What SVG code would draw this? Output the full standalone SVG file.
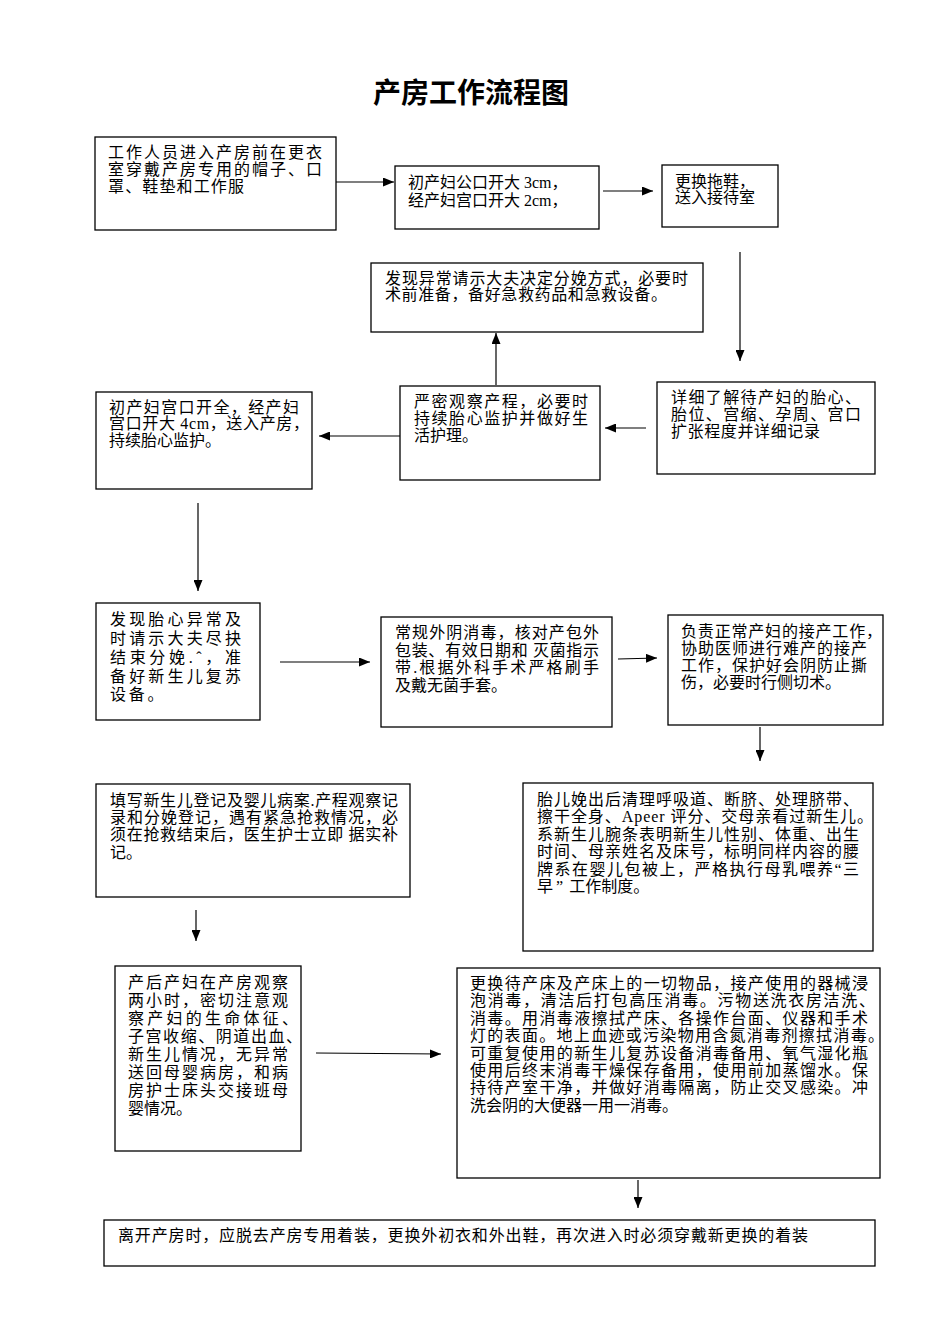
<svg xmlns="http://www.w3.org/2000/svg" width="950" height="1344" viewBox="0 0 950 1344">
<style>
.bg{fill:#fff}
.box{fill:#fff;stroke:#000;stroke-width:1.3}
.t{font-family:"Liberation Serif","Noto Sans CJK SC",serif;font-size:16px;fill:#000}
.title{font-family:"Liberation Serif","Noto Sans CJK SC",serif;font-size:28px;font-weight:bold;fill:#000}
.c{stroke:#000;stroke-width:1.2;fill:none;marker-end:url(#ah)}
</style>
<defs>
<marker id="ah" markerUnits="userSpaceOnUse" markerWidth="11" markerHeight="9" refX="11" refY="4.5" orient="auto">
<path d="M0,0 L11,4.5 L0,9 z" fill="#000"/>
</marker>
</defs>
<rect class="bg" x="0" y="0" width="950" height="1344"/>
<text class="title" x="471" y="103" text-anchor="middle">产房工作流程图</text>

<g id="connectors">
<line class="c" x1="336" y1="182" x2="394" y2="182"/>
<line class="c" x1="603" y1="191" x2="653" y2="191"/>
<line class="c" x1="740" y1="252" x2="740" y2="361"/>
<line class="c" x1="646" y1="428" x2="605" y2="428"/>
<line class="c" x1="496" y1="385" x2="496" y2="333"/>
<line class="c" x1="400" y1="436" x2="319" y2="436"/>
<line class="c" x1="198" y1="503" x2="198" y2="591"/>
<line class="c" x1="280" y1="662" x2="370" y2="662"/>
<line class="c" x1="618" y1="659" x2="657" y2="658"/>
<line class="c" x1="760" y1="727" x2="760" y2="761"/>
<line class="c" x1="196" y1="910" x2="196" y2="941"/>
<line class="c" x1="316" y1="1053" x2="441" y2="1054"/>
<line class="c" x1="638" y1="1180" x2="638" y2="1208"/>
</g>

<g id="nodeA">
<rect class="box" x="95" y="137" width="241" height="93"/>
<text class="t" x="108" y="158" textLength="214">工作人员进入产房前在更衣</text>
<text class="t" x="108" y="175" textLength="214">室穿戴产房专用的帽子、口</text>
<text class="t" x="108" y="192" textLength="136">罩、鞋垫和工作服</text>
</g>

<g id="nodeB">
<rect class="box" x="395" y="166" width="204" height="63"/>
<text class="t" x="408" y="188">初产妇公口开大 3cm，</text>
<text class="t" x="408" y="206">经产妇宫口开大 2cm，</text>
</g>

<g id="nodeC">
<rect class="box" x="662" y="165" width="116" height="62"/>
<text class="t" x="675" y="187">更换拖鞋，</text>
<text class="t" x="675" y="203">送入接待室</text>
</g>

<g id="nodeD">
<rect class="box" x="371" y="263" width="332" height="69"/>
<text class="t" x="385" y="284" textLength="303">发现异常请示大夫决定分娩方式，必要时</text>
<text class="t" x="385" y="300" textLength="282">术前准备，备好急救药品和急救设备。</text>
</g>

<g id="nodeE">
<rect class="box" x="657" y="382" width="218" height="92"/>
<text class="t" x="671" y="403" textLength="190">详细了解待产妇的胎心、</text>
<text class="t" x="671" y="420" textLength="190">胎位、宫缩、孕周、宫口</text>
<text class="t" x="671" y="437" textLength="149">扩张程度并详细记录</text>
</g>

<g id="nodeF">
<rect class="box" x="400" y="386" width="200" height="94"/>
<text class="t" x="414" y="407" textLength="174">严密观察产程，必要时</text>
<text class="t" x="414" y="424" textLength="174">持续胎心监护并做好生</text>
<text class="t" x="414" y="441">活护理。</text>
</g>

<g id="nodeG">
<rect class="box" x="96" y="392" width="216" height="97"/>
<text class="t" x="109" y="413" textLength="190">初产妇宫口开全，经产妇</text>
<text class="t" x="109" y="429" textLength="200">宫口开大 4cm，送入产房，</text>
<text class="t" x="109" y="446">持续胎心监护。</text>
</g>

<g id="nodeH">
<rect class="box" x="96" y="603" width="164" height="117"/>
<text class="t" x="110" y="625" textLength="131">发现胎心异常及</text>
<text class="t" x="110" y="644" textLength="131">时请示大夫尽抉</text>
<text class="t" x="110" y="663" textLength="131">结束分娩.ˆ，准</text>
<text class="t" x="110" y="682" textLength="131">备好新生儿复苏</text>
<text class="t" x="110" y="700" letter-spacing="2.7">设备。</text>
</g>

<g id="nodeI">
<rect class="box" x="381" y="617" width="231" height="110"/>
<text class="t" x="395" y="638" textLength="204">常规外阴消毒，核对产包外</text>
<text class="t" x="395" y="656" textLength="204">包装、有效日期和 灭菌指示</text>
<text class="t" x="395" y="673" textLength="204">带.根据外科手术严格刷手</text>
<text class="t" x="395" y="691">及戴无菌手套。</text>
</g>

<g id="nodeJ">
<rect class="box" x="668" y="615" width="215" height="110"/>
<text class="t" x="681" y="637" textLength="201">负责正常产妇的接产工作，</text>
<text class="t" x="681" y="654" textLength="186">协助医师进行难产的接产</text>
<text class="t" x="681" y="671" textLength="186">工作，保护好会阴防止撕</text>
<text class="t" x="681" y="688">伤，必要时行侧切术。</text>
</g>

<g id="nodeK">
<rect class="box" x="523" y="783" width="350" height="168"/>
<text class="t" x="537" y="805" textLength="322">胎儿娩出后清理呼吸道、断脐、处理脐带、</text>
<text class="t" x="537" y="822.4" textLength="336">擦干全身、Apeer 评分、交母亲看过新生儿。</text>
<text class="t" x="537" y="839.8" textLength="322">系新生儿腕条表明新生儿性别、体重、出生</text>
<text class="t" x="537" y="857.2" textLength="322">时间、母亲姓名及床号，标明同样内容的腰</text>
<text class="t" x="537" y="874.6" textLength="322">牌系在婴儿包被上，严格执行母乳喂养“三</text>
<text class="t" x="537" y="892">早<tspan dx="3">”</tspan><tspan dx="6">工作制度。</tspan></text>
</g>

<g id="nodeL">
<rect class="box" x="96" y="784" width="314" height="113"/>
<text class="t" x="110" y="806" textLength="288">填写新生儿登记及婴儿病案.产程观察记</text>
<text class="t" x="110" y="823" textLength="288">录和分娩登记，遇有紧急抢救情况，必</text>
<text class="t" x="110" y="840" textLength="288">须在抢救结束后，医生护士立即 据实补</text>
<text class="t" x="110" y="858">记。</text>
</g>

<g id="nodeM">
<rect class="box" x="115" y="966" width="186" height="185"/>
<text class="t" x="128" y="988" textLength="160">产后产妇在产房观察</text>
<text class="t" x="128" y="1006" textLength="160">两小时，密切注意观</text>
<text class="t" x="128" y="1024" textLength="170">察产妇的生命体征、</text>
<text class="t" x="128" y="1042" textLength="174">子宫收缩、阴道出血、</text>
<text class="t" x="128" y="1060" textLength="160">新生儿情况，无异常</text>
<text class="t" x="128" y="1078" textLength="160">送回母婴病房，和病</text>
<text class="t" x="128" y="1096" textLength="160">房护士床头交接班母</text>
<text class="t" x="128" y="1114">婴情况。</text>
</g>

<g id="nodeN">
<rect class="box" x="457" y="968" width="423" height="210"/>
<text class="t" x="470" y="989" textLength="398">更换待产床及产床上的一切物品，接产使用的器械浸</text>
<text class="t" x="470" y="1006.4" textLength="405">泡消毒，清洁后打包高压消毒。污物送洗衣房洁洗、</text>
<text class="t" x="470" y="1023.8" textLength="398">消毒。用消毒液擦拭产床、各操作台面、仪器和手术</text>
<text class="t" x="470" y="1041.2" textLength="414">灯的表面。地上血迹或污染物用含氮消毒剂擦拭消毒。</text>
<text class="t" x="470" y="1058.6" textLength="398">可重复使用的新生儿复苏设备消毒备用、氧气湿化瓶</text>
<text class="t" x="470" y="1076" textLength="398">使用后终末消毒干燥保存备用，使用前加蒸馏水。保</text>
<text class="t" x="470" y="1093.4" textLength="398">持待产室干净，并做好消毒隔离，防止交叉感染。冲</text>
<text class="t" x="470" y="1110.8">洗会阴的大便器一用一消毒。</text>
</g>

<g id="nodeO">
<rect class="box" x="104" y="1220" width="771" height="46"/>
<text class="t" x="118" y="1241" textLength="690">离开产房时，应脱去产房专用着装，更换外初衣和外出鞋，再次进入时必须穿戴新更换的着装</text>
</g>
</svg>
